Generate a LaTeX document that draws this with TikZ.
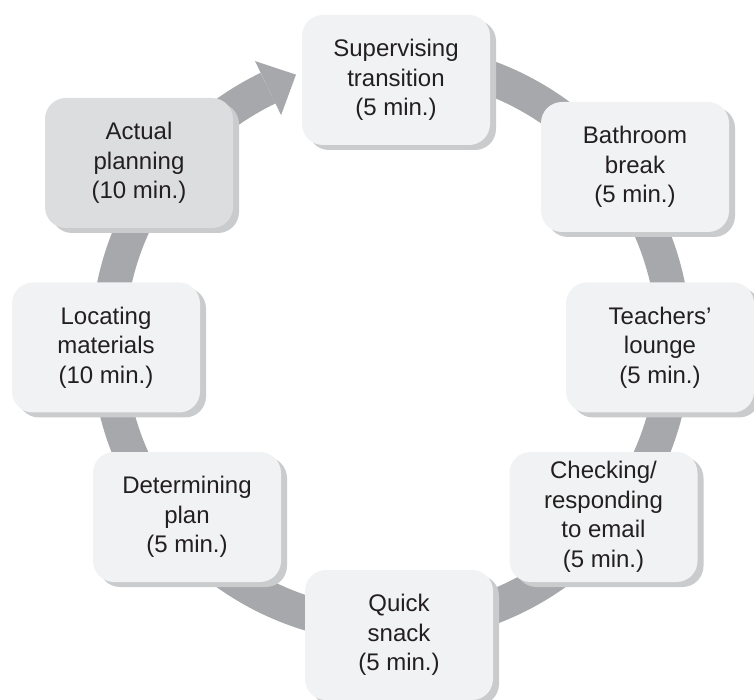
\documentclass[tikz,border=0pt]{standalone}
\usepackage{fontspec}
\setmainfont{Liberation Sans}
\usetikzlibrary{shadows,calc}
\definecolor{ringgray}{HTML}{A7A8AB}
\definecolor{boxfill}{HTML}{F1F2F3}
\definecolor{boxdark}{HTML}{DCDDDF}
\definecolor{shadowgray}{HTML}{CACBCD}
\definecolor{txt}{HTML}{231F20}
\begin{document}
\begin{tikzpicture}[x=1pt,y=1pt,
  stagebox/.style={rectangle, rounded corners=21pt, fill=boxfill,
    minimum width=188pt, minimum height=130pt, align=center, text=txt,
    font=\fontsize{24}{29.5}\selectfont, inner sep=0pt,
    copy shadow={shadow xshift=6pt, shadow yshift=-5pt, fill=shadowgray, draw=none}},
  ring/.style={draw=ringgray, line width=34pt}]
\useasboundingbox (0,0) rectangle (754,699);
\coordinate (ctr) at (391,356);
\draw[ring] ($(ctr)+(100:283)$) arc[start angle=100, end angle=-244.25, radius=283];
\coordinate (hb) at ($(ctr)+(115.75:283)$);
\fill[ringgray] ($(hb)+(115.75:30)$) -- ($(hb)+(25.75:31)$) -- ($(hb)+(-64.25:30)$) -- cycle;

\node[stagebox] (sup) at (396,619) {Supervising\\transition\\(5 min.)};
\node[stagebox] (bath) at (635,532) {Bathroom\\break\\(5 min.)};
\node[stagebox] (teach) at (660,351.5) {Teachers’\\lounge\\(5 min.)};
\node[stagebox] (check) at (603.5,182) {Checking/\\responding\\to email\\(5 min.)};
\node[stagebox] (quick) at (399,64) {Quick\\snack\\(5 min.)};
\node[stagebox] (det) at (187,182) {Determining\\plan\\(5 min.)};
\node[stagebox] (loc) at (106,351.5) {Locating\\materials\\(10 min.)};
\node[stagebox, fill=boxdark] (act) at (139,536) {Actual\\planning\\(10 min.)};
\end{tikzpicture}
\end{document}
